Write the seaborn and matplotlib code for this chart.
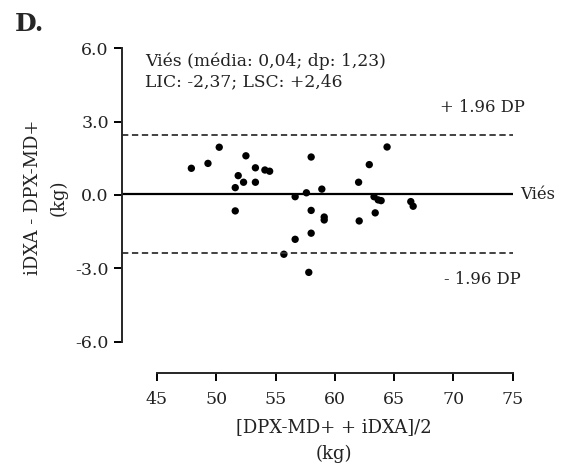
import pandas as pd
import matplotlib.pyplot as plt
import seaborn as sns

media_kg = [47.9, 49.3, 50.25, 52.5, 51.85, 51.6, 52.3, 53.3, 53.3, 54.1, 54.5, 51.6,
            55.7, 56.65, 56.65, 57.6, 58.0, 58.0, 58.0, 57.8, 58.9, 59.1, 59.1,
            62.0, 62.9, 64.4, 63.3, 63.65, 63.9, 62.05, 63.4, 66.4, 66.6]
diferenca_kg = [1.09, 1.29, 1.95, 1.6, 0.79, 0.30, 0.52, 1.11, 0.52, 1.02, 0.97, -0.65,
                -2.42, -0.07, -1.81, 0.09, 1.55, -0.63, -1.56, -3.16, 0.24, -0.90, -1.02,
                0.52, 1.24, 1.96, -0.07, -0.20, -0.23, -1.06, -0.73, -0.27, -0.46]
vies = 0.04
lic = -2.37
lsc = 2.46
xticks = [45, 50, 55, 60, 65, 70, 75]
yticks = [-6.0, -3.0, 0.0, 3.0, 6.0]

sns.set_style("ticks")
plt.rcParams['font.family'] = ['DejaVu Serif']

df = pd.DataFrame({'media': media_kg, 'dif': diferenca_kg})

fig = plt.figure(figsize=(5.66, 4.71), dpi=100)
ax = fig.add_axes([0.2155, 0.208, 0.906 - 0.2155, 0.898 - 0.208])

sns.scatterplot(data=df, x='media', y='dif', color='black', s=28, edgecolor='none', ax=ax)

ax.axhline(vies, color='black', lw=1.6)
ax.axhline(lsc, color='#333333', lw=1.3, ls=(0, (3.5, 2)))
ax.axhline(lic, color='#333333', lw=1.3, ls=(0, (3.5, 2)))

ax.set_xlim(42.05, 75)
ax.set_ylim(-7.27, 6.0)
ax.spines['left'].set_bounds(-6, 6)
ax.spines['bottom'].set_bounds(45, 75)
ax.spines['right'].set_visible(False)
ax.spines['top'].set_visible(False)
for s in ['left', 'bottom']:
    ax.spines[s].set_linewidth(1.4)

ax.set_xticks(xticks)
ax.set_xticklabels([str(t) for t in xticks])
ax.set_yticks(yticks)
ax.set_yticklabels([f'{t:.1f}' for t in yticks])
ax.tick_params(axis='both', labelsize=12.5, width=1.4, length=6, color='black', labelcolor='#222222')
ax.tick_params(axis='x', pad=7)

ax.set_xlabel('[DPX-MD+ + iDXA]/2\n(kg)', fontsize=13, color='#222222', linespacing=1.6)
ax.set_ylabel('iDXA - DPX-MD+\n(kg)', fontsize=13, color='#222222', linespacing=1.5)
ax.xaxis.set_label_coords(0.542, -0.14)
ax.yaxis.set_label_coords(-0.14, 0.54)

ax.text(0.06, 0.985, 'Viés (média: 0,04; dp: 1,23)\nLIC: -2,37; LSC: +2,46',
        transform=ax.transAxes, fontsize=12.3, va='top', ha='left', color='#222222', linespacing=1.2)
ax.text(72.4, 3.59, '+ 1.96 DP', fontsize=11.8, ha='center', va='center', color='#222222', clip_on=False)
ax.text(72.4, -3.47, '- 1.96 DP', fontsize=11.8, ha='center', va='center', color='#222222', clip_on=False)
ax.text(75.6, vies, 'Viés', fontsize=11.8, ha='left', va='center', color='#222222', clip_on=False)

fig.text(0.026, 0.975, 'D.', fontsize=18, fontweight='bold', va='top', ha='left')

fig.savefig('out.png', dpi=100)
